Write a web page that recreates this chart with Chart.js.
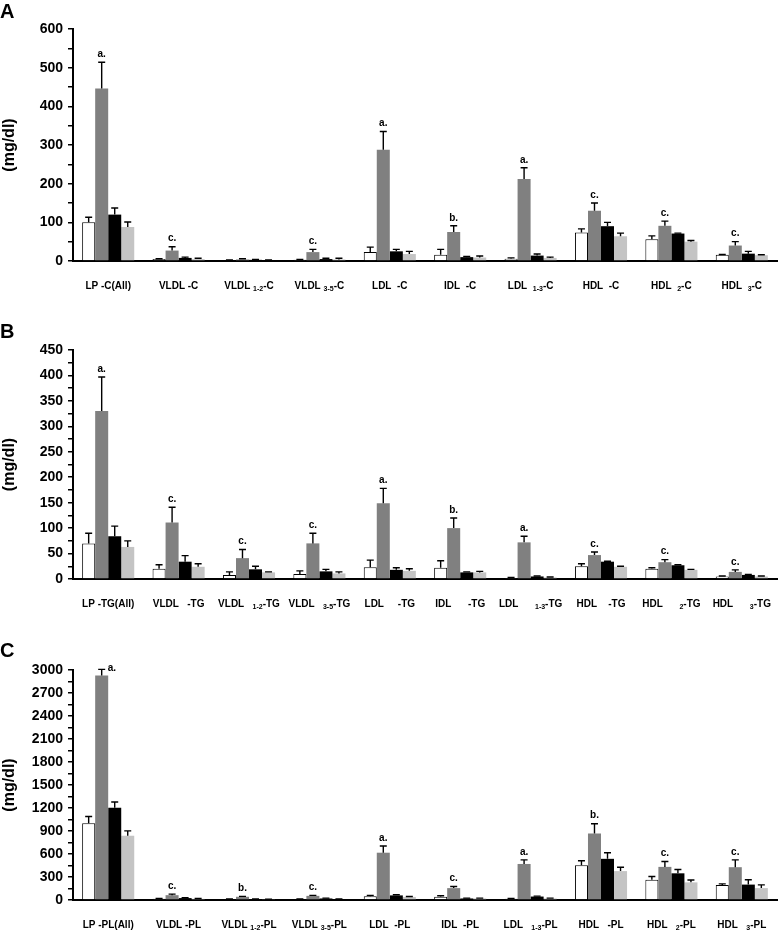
<!DOCTYPE html>
<html lang="en">
<head>
<meta charset="UTF-8" />
<title>Lipoprotein fractions (mg/dl)</title>
<script src="https://cdn.jsdelivr.net/npm/chart.js"></script>
<style>
  body { margin: 0; background: #fff; width: 779px; font-family: 'Liberation Sans', Arial, sans-serif; }
  .panel { position: relative; width: 779px; }
  .panel canvas { display: block; }
  .tag { position: absolute; left: 0; font-weight: bold; font-size: 20px; line-height: 1; color: #000; }
</style>
</head>
<body>
  <div class="panel" style="height:305px"><div class="tag" style="top:1px">A</div><canvas id="chartA" width="779" height="305"></canvas></div>
  <div class="panel" style="height:315px"><div class="tag" style="top:16px">B</div><canvas id="chartB" width="779" height="315"></canvas></div>
  <div class="panel" style="height:319px"><div class="tag" style="top:20px">C</div><canvas id="chartC" width="779" height="319"></canvas></div>

<script>
// text between | | is drawn as subscript
const groupsA = ['LP -C(All)', 'VLDL -C', 'VLDL |1-2|-C', 'VLDL |3-5|-C', 'LDL  -C', 'IDL  -C', 'LDL  |1-3|-C', 'HDL  -C', 'HDL  |2|-C', 'HDL  |3|-C'];
const groupsB = ['LP -TG(All)', 'VLDL   -TG', 'VLDL   |1-2|-TG', 'VLDL   |3-5|-TG', 'LDL     -TG', 'IDL      -TG', 'LDL      |1-3|-TG', 'HDL    -TG', 'HDL      |2|-TG', 'HDL      |3|-TG'];
const groupsC = ['LP -PL(All)', 'VLDL -PL', 'VLDL |1-2|-PL', 'VLDL |3-5|-PL', 'LDL  -PL', 'IDL  -PL', 'LDL   |1-3|-PL', 'HDL   -PL', 'HDL   |2|-PL', 'HDL   |3|-PL'];

// A: cholesterol
const whiteA = [100, 5, 2, 3, 23, 16, 6, 74, 56, 16];
const grayA  = [446, 27, 4, 23, 288, 75, 212, 130, 91, 40];
const blackA = [120, 8, 3, 5, 25, 10, 14, 90, 71, 19];
const lightA = [88, 5, 2, 4, 18, 9, 8, 64, 50, 15];
const whiteSdA = [13, 1, 1, 1, 13, 14, 2, 9, 9, 1];
const graySdA  = [68, 10, 2, 7, 47, 16, 29, 20, 12, 10];
const blackSdA = [17, 2, 1, 2, 5, 2, 4, 10, 1, 6];
const lightSdA = [13, 2, 1, 3, 7, 4, 2, 8, 3, 1];
const lettersA = ['a.', 'c.', '', 'c.', 'a.', 'b.', 'a.', 'c.', 'c.', 'c.'];

// B: triglycerides
const whiteB = [70, 20, 8, 10, 23, 22, 2, 25, 20, 5];
const grayB  = [330, 111, 41, 70, 149, 100, 72, 47, 33, 14];
const blackB = [84, 34, 19, 15, 18, 13, 5, 34, 27, 8];
const lightB = [63, 24, 13, 11, 16, 13, 3, 24, 18, 5];
const whiteSdB = [20, 8, 6, 6, 14, 14, 1, 5, 2, 1];
const graySdB  = [67, 30, 17, 20, 29, 20, 12, 6, 5, 4];
const blackSdB = [20, 12, 6, 4, 4, 1, 1, 1, 1, 1];
const lightSdB = [12, 6, 1, 3, 4, 2, 1, 1, 1, 1];
const lettersB = ['a.', 'c.', 'c.', 'c.', 'a.', 'b.', 'a.', 'c.', 'c.', 'c.'];

// C: phospholipids
const whiteC = [1000, 15, 10, 10, 50, 42, 15, 453, 264, 197];
const grayC  = [2928, 63, 42, 54, 617, 155, 470, 869, 432, 428];
const blackC = [1203, 25, 10, 20, 60, 20, 45, 537, 348, 201];
const lightC = [839, 15, 8, 10, 40, 20, 20, 377, 230, 155];
const whiteSdC = [90, 5, 3, 3, 10, 13, 5, 58, 42, 13];
const graySdC  = [80, 13, 5, 6, 88, 21, 54, 126, 71, 96];
const blackSdC = [76, 5, 3, 4, 8, 4, 6, 80, 50, 63];
const lightSdC = [63, 4, 3, 3, 6, 4, 4, 51, 30, 42];
const lettersC = ['a.', 'c.', 'b.', 'c.', 'a.', 'c.', 'a.', 'b.', 'c.', 'c.'];

const barColors = ['#ffffff', '#808080', '#000000', '#c4c4c4'];
const FONT = "'Liberation Sans', Arial, sans-serif";

// error bars (upper only) + significance letters over the gray bars
const marksPlugin = {
  id: 'marks',
  afterDatasetsDraw(chart, args, opts) {
    const ctx = chart.ctx;
    const y = chart.scales.y;
    ctx.save();
    ctx.strokeStyle = '#000';
    ctx.lineWidth = 1.4;
    chart.data.datasets.forEach((ds, di) => {
      chart.getDatasetMeta(di).data.forEach((bar, j) => {
        const top = y.getPixelForValue(ds.data[j] + ds.errors[j]);
        ctx.beginPath();
        ctx.moveTo(bar.x, bar.y);
        ctx.lineTo(bar.x, top);
        ctx.moveTo(bar.x - 3.5, top);
        ctx.lineTo(bar.x + 3.5, top);
        ctx.stroke();
        if (di === 1 && opts.letters[j]) {
          ctx.fillStyle = '#000';
          ctx.font = 'bold 10px ' + FONT;
          if (top - 16 < chart.chartArea.top) {
            ctx.textAlign = 'left';
            ctx.textBaseline = 'middle';
            ctx.fillText(opts.letters[j], bar.x + 6, top - 1);
          } else {
            ctx.textAlign = 'center';
            ctx.textBaseline = 'bottom';
            ctx.fillText(opts.letters[j], bar.x, top - 3);
          }
        }
      });
    });
    ctx.restore();
  }
};

// category labels with subscripts
const xLabelPlugin = {
  id: 'xlabels',
  afterDraw(chart) {
    const ctx = chart.ctx;
    const xs = chart.scales.x;
    const yPos = chart.chartArea.bottom + 25;
    ctx.save();
    ctx.fillStyle = '#000';
    ctx.textBaseline = 'middle';
    ctx.textAlign = 'left';
    chart.data.labels.forEach((lab, i) => {
      const parts = lab.split('|');
      let w = 0;
      parts.forEach((p, k) => {
        ctx.font = (k % 2 ? 'bold 7px ' : 'bold 10px ') + FONT;
        w += ctx.measureText(p).width;
      });
      let x = xs.getPixelForTick(i) - w / 2;
      parts.forEach((p, k) => {
        ctx.font = (k % 2 ? 'bold 7px ' : 'bold 10px ') + FONT;
        ctx.fillText(p, x, k % 2 ? yPos + 3 : yPos);
        x += ctx.measureText(p).width;
      });
    });
    ctx.restore();
  }
};

function makePanel(id, labels, series, errors, letters, yMax, yStep, pad) {
  new Chart(document.getElementById(id), {
    type: 'bar',
    data: {
      labels: labels,
      datasets: series.map((d, i) => ({
        data: d,
        errors: errors[i],
        backgroundColor: barColors[i],
        borderColor: '#000',
        borderWidth: i === 0 ? 1 : 0,
        categoryPercentage: 0.74,
        barPercentage: 1
      }))
    },
    options: {
      responsive: false,
      animation: false,
      layout: { padding: pad },
      plugins: {
        legend: { display: false },
        tooltip: { enabled: false },
        marks: { letters: letters }
      },
      scales: {
        x: {
          grid: { display: false },
          border: { display: true, color: '#000', width: 2 },
          ticks: { display: false }
        },
        y: {
          min: 0,
          max: yMax,
          afterFit: s => { s.width = 73; },
          ticks: {
            stepSize: yStep / 2,
            autoSkip: false,
            padding: 5,
            color: '#000',
            font: { family: FONT, size: 14, weight: 'bold' },
            callback: v => (v % yStep === 0 ? v : '')
          },
          grid: { drawOnChartArea: false, drawTicks: true, tickLength: 5, color: '#000', lineWidth: 1.5 },
          border: { color: '#000', width: 2 },
          title: {
            display: true,
            text: '(mg/dl)',
            color: '#000',
            padding: { top: 0, bottom: 0 },
            font: { family: FONT, size: 16, weight: 'bold' }
          }
        }
      }
    },
    plugins: [marksPlugin, xLabelPlugin]
  });
}

makePanel('chartA', groupsA, [whiteA, grayA, blackA, lightA], [whiteSdA, graySdA, blackSdA, lightSdA], lettersA, 600, 100, { top: 29, bottom: 36, left: 0, right: 2 });
makePanel('chartB', groupsB, [whiteB, grayB, blackB, lightB], [whiteSdB, graySdB, blackSdB, lightSdB], lettersB, 450, 50, { top: 45, bottom: 33, left: 0, right: 2 });
makePanel('chartC', groupsC, [whiteC, grayC, blackC, lightC], [whiteSdC, graySdC, blackSdC, lightSdC], lettersC, 3000, 300, { top: 50, bottom: 31, left: 0, right: 2 });
</script>
</body>
</html>
